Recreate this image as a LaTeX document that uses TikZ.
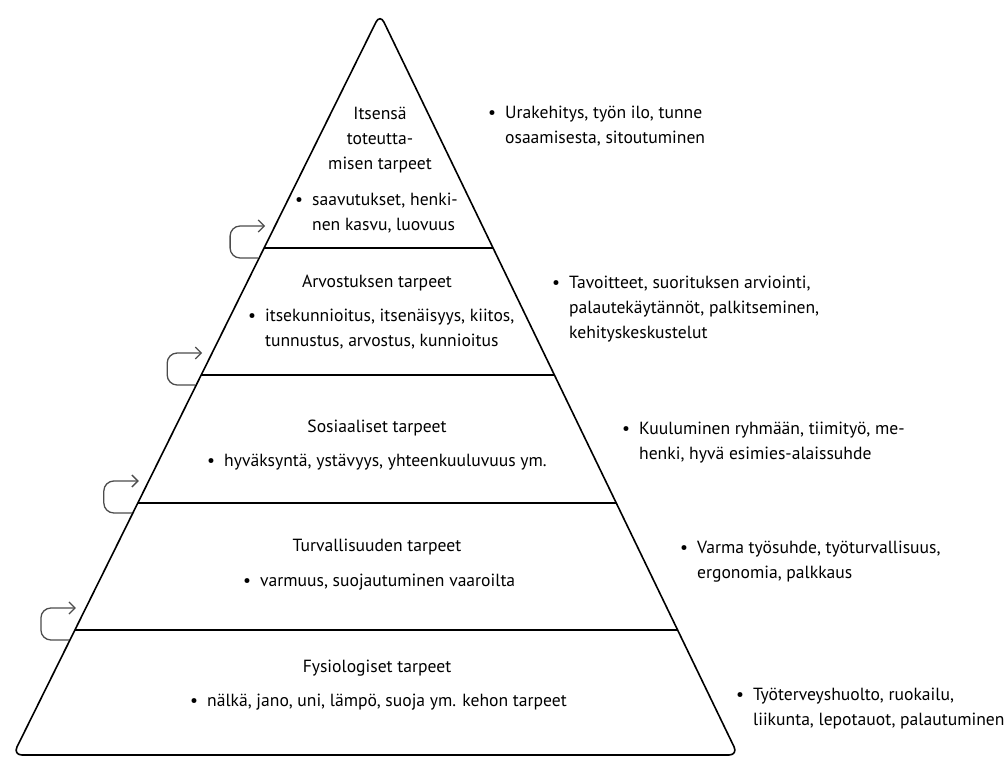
\documentclass[tikz,border=0pt]{standalone}
\usepackage{fontspec}
\setmainfont{PT Sans}
\usetikzlibrary{arrows.meta,calc}

% bullet with hanging second lines
\newcommand{\kohdat}[1]{\begin{tabular}[t]{@{}l@{\hspace{9pt}}l@{}}\textbullet & #1\end{tabular}}

\begin{document}
\begin{tikzpicture}[x=1pt,y=-1pt,
    pyramidi/.style={line width=1.6pt, rounded corners=9pt},
    taso/.style={line width=2.4pt},
    otsikko/.style={align=center, inner sep=0pt, font=\fontsize{17.6}{25}\selectfont},
    lista/.style={anchor=base west, inner sep=0pt, font=\fontsize{17.6}{25}\selectfont},
    paluu/.style={draw=black!70, line width=1.3pt, rounded corners=10pt, -{Straight Barb[length=6pt,width=12pt]}}]
  \useasboundingbox (0,0) rectangle (1008,762);

  \coordinate (huippu) at (380,14);
  \coordinate (va) at (13,755);
  \coordinate (oa) at (738,755);
  \draw[pyramidi] (huippu) -- (oa) -- (va) -- cycle;

  % levels and the arrows beside them
  \foreach \t [count=\i] in {0.3158,0.4872,0.6599,0.8313} {
    \coordinate (v\i) at ($(huippu)!\t!(va)$);
    \coordinate (o\i) at ($(huippu)!\t!(oa)$);
    \coordinate (a\i) at ($(v\i)+(-6,10)$);
    \coordinate (b\i) at ($(v\i)+(1,-22)$);
    \coordinate (k\i) at ($(v\i)+(-34,-22)$);
    \draw[taso] (v\i) -- (o\i);
    \draw[paluu] (a\i) -| (k\i) -- (b\i);
  }

  % inside the pyramid
  \node[otsikko] (itse) at (380,140) {Itsensä\\toteutta-\\misen tarpeet};
  \node[lista] (itsel) at (295,205) {\kohdat{saavutukset, henki-\\& nen kasvu, luovuus}};
  \node[otsikko] (arvo) at (377,283) {Arvostuksen tarpeet};
  \node[lista] (arvol) at (248,321) {\kohdat{itsekunnioitus, itsenäisyys, kiitos,\\& tunnustus, arvostus, kunnioitus}};
  \node[otsikko] (sos) at (377,428) {Sosiaaliset tarpeet};
  \node[lista] (sosl) at (207,466) {\kohdat{hyväksyntä, ystävyys, yhteenkuuluvuus ym.}};
  \node[otsikko] (turva) at (377,547) {Turvallisuuden tarpeet};
  \node[lista] (turval) at (243,586) {\kohdat{varmuus, suojautuminen vaaroilta}};
  \node[otsikko] (fys) at (377,668) {Fysiologiset tarpeet};
  \node[lista] (fysl) at (190,706) {\kohdat{nälkä, jano, uni, lämpö, suoja ym. kehon tarpeet}};

  % at work
  \node[lista] (ty5) at (488,119) {\kohdat{Urakehitys, työn ilo, tunne\\& osaamisesta, sitoutuminen}};
  \node[lista] (ty4) at (552,288) {\kohdat{Tavoitteet, suorituksen arviointi,\\& palautekäytännöt, palkitseminen,\\& kehityskeskustelut}};
  \node[lista] (ty3) at (622,434) {\kohdat{Kuuluminen ryhmään, tiimityö, me-\\& henki, hyvä esimies-alaissuhde}};
  \node[lista] (ty2) at (680,553) {\kohdat{Varma työsuhde, työturvallisuus,\\& ergonomia, palkkaus}};
  \node[lista] (ty1) at (736,700) {\kohdat{Työterveyshuolto, ruokailu,\\& liikunta, lepotauot, palautuminen}};
\end{tikzpicture}
\end{document}
